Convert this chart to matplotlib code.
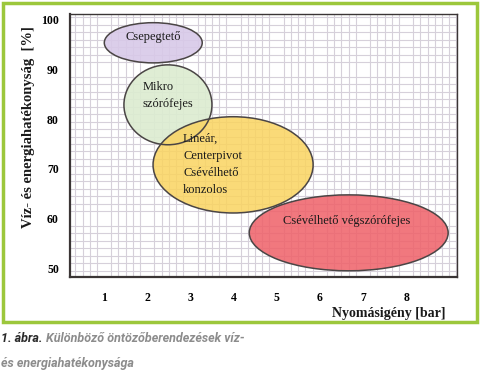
import numpy as np
import matplotlib.pyplot as plt
from matplotlib.patches import Ellipse, Rectangle
from matplotlib.ticker import MultipleLocator

# ellipse data: pressure demand (bar) and efficiency (%)
names = ['Csepegtető', 'Mikro\nszórófejes', 'Lineár,\nCenterpivot\nCsévélhető\nkonzolos',
         'Csévélhető végszórófejes']
x_center = [2.14, 2.48, 3.99, 6.67]
y_center = [95.4, 82.9, 70.8, 57.1]
x_span = [2.27, 2.04, 3.71, 4.61]
y_span = [8.1, 16.1, 19.4, 15.3]
label_x = [2.14, 1.90, 2.83, 6.63]
label_y = [96.6, 84.7, 70.9, 59.5]
label_ha = ['center', 'left', 'left', 'center']
fills = ['#d8c9e8', '#dcecd0', '#fad460', '#ef6068']
alphas = [0.9, 0.9, 0.85, 0.85]

x_ticks = [1, 2, 3, 4, 5, 6, 7, 8]
y_ticks = [50, 60, 70, 80, 90, 100]

W, H = 481, 379
fig = plt.figure(figsize=(W / 100, H / 100), dpi=100)
fig.patch.set_facecolor('white')

# green frame
fig.add_artist(Rectangle((3 / W, 1 - 322 / H), 474 / W, 319 / H, transform=fig.transFigure,
                         fill=False, edgecolor='#9cc73c', linewidth=2.5))

ax = fig.add_axes([70 / W, 1 - 277 / H, 387 / W, 263 / H])
ax.set_xlim(0.21, 9.18)
ax.set_ylim(48.2, 101.2)

ax.xaxis.set_minor_locator(MultipleLocator(1 / 6))
ax.yaxis.set_minor_locator(MultipleLocator(1.5))
ax.grid(which='minor', color='#d6d0da', linewidth=0.8)
ax.grid(which='major', visible=False)
ax.set_axisbelow(True)

for cx, cy, w, h, fc, a in zip(x_center, y_center, x_span, y_span, fills, alphas):
    ax.add_patch(Ellipse((cx, cy), w, h, facecolor=fc, alpha=a, edgecolor='none', zorder=2))
    ax.add_patch(Ellipse((cx, cy), w, h, fill=False, edgecolor='#4a4545', linewidth=1.1, zorder=3))

for name, lx, ly, ha in zip(names, label_x, label_y, label_ha):
    ax.text(lx, ly, name, ha=ha, va='center', family='Liberation Serif', fontsize=9,
            color='#1a1a1a', linespacing=1.55, zorder=4)

ax.set_xticks(x_ticks)
ax.set_yticks(y_ticks)
ax.set_xticklabels([str(t) for t in x_ticks], family='Liberation Serif', fontweight='bold', fontsize=8.5)
ax.set_yticklabels([str(t) for t in y_ticks], family='Liberation Serif', fontweight='bold', fontsize=8.5)
ax.tick_params(which='both', length=0)
ax.tick_params(axis='x', pad=11)
ax.tick_params(axis='y', pad=8)
for side in ['left', 'bottom']:
    ax.spines[side].set_color('#3a3535')
    ax.spines[side].set_linewidth(1.6)
for side in ['top', 'right']:
    ax.spines[side].set_color('#3a3535')
    ax.spines[side].set_linewidth(1.0)

fig.text(29 / W, 1 - 127 / H, 'Víz- és energiahatékonyság  [%]', rotation=90, ha='center', va='center',
         family='Liberation Serif', fontweight='bold', fontsize=10.5, color='#1a1a1a')
fig.text(446 / W, 1 - 313 / H, 'Nyomásigény [bar]', ha='right', va='center',
         family='Liberation Serif', fontweight='bold', fontsize=10, color='#1a1a1a')

# caption
cap = fig.text(1 / W, 1 - 338 / H, '1. ábra.', ha='left', va='center', family='Roboto',
               fontweight='bold', style='italic', fontsize=9, color='#2a2a2a')
fig.canvas.draw()
bb = cap.get_window_extent()
fig.text((bb.x1 + 4) / W, 1 - 338 / H, 'Különböző öntözőberendezések víz-', ha='left', va='center',
         family='Roboto', fontweight='bold', style='italic', fontsize=9, color='#8c8c8c')
fig.text(1 / W, 1 - 364 / H, 'és energiahatékonysága', ha='left', va='center',
         family='Roboto', fontweight='bold', style='italic', fontsize=9, color='#8c8c8c')

fig.savefig('out.png', dpi=100)
